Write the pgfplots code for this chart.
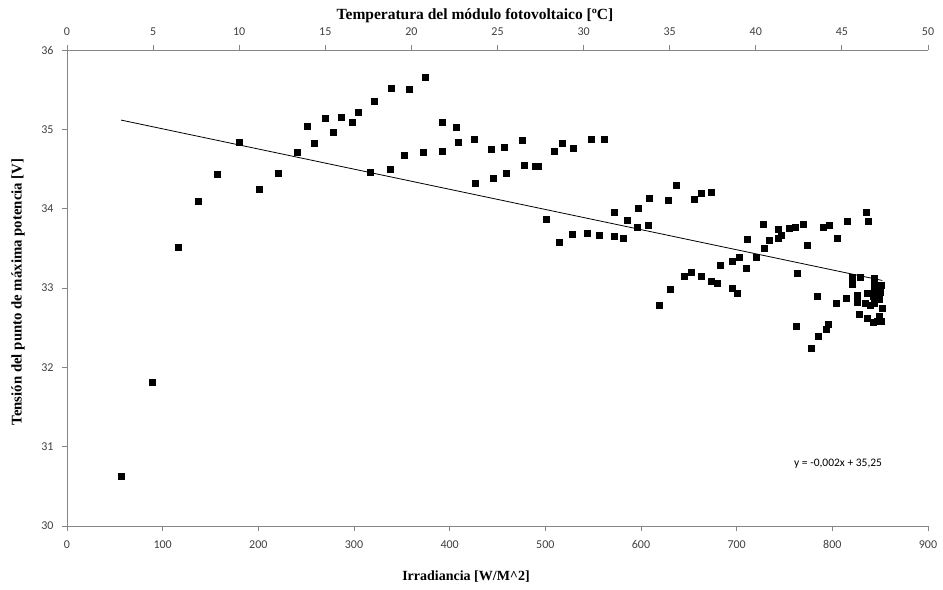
\documentclass[border=0pt]{standalone}
\usepackage{fontspec}
\setmainfont{Liberation Serif}
\newfontfamily\tickfont{Carlito}
\usepackage{pgfplots}
\pgfplotsset{compat=1.18}
\usepackage{pgfplotstable}

\definecolor{axgray}{RGB}{134,134,134}
\definecolor{tickgray}{RGB}{64,64,64}

% Irradiance [W/m^2] vs. MPP voltage [V]
\pgfplotstableread{
x y
56.4 30.63
89.1 31.81
115.8 33.52
137.4 34.10
157.1 34.44
179.7 34.84
200.9 34.24
221.2 34.45
241.1 34.71
251.1 35.04
258.3 34.82
269.6 35.14
278.3 34.96
286.3 35.15
297.6 35.09
304.8 35.21
321.6 35.36
317.1 34.46
339.3 35.52
338.2 34.50
357.7 35.51
352.4 34.67
374.8 35.66
372.0 34.71
391.8 35.09
392.6 34.72
406.8 35.03
408.9 34.84
425.6 34.87
426.6 34.32
443.0 34.75
445.1 34.39
457.4 34.78
458.7 34.45
475.8 34.86
477.5 34.55
489.0 34.54
492.8 34.53
500.8 33.87
509.1 34.72
514.8 33.58
517.9 34.83
528.0 33.68
529.4 34.76
543.4 33.69
547.8 34.87
556.3 33.67
561.1 34.88
571.6 33.65
571.6 33.95
581.7 33.63
585.4 33.85
596.5 33.77
597.2 34.01
607.4 33.79
608.4 34.13
619.4 32.78
628.2 34.11
630.3 32.98
636.6 34.30
645.2 33.15
652.2 33.20
655.7 34.12
663.3 34.19
663.3 33.15
673.1 34.21
673.7 33.08
679.7 33.06
682.5 33.29
695.0 33.34
695.7 33.00
700.9 32.94
702.6 33.39
710.3 33.25
711.1 33.62
720.9 33.39
727.4 33.81
729.2 33.50
734.4 33.60
743.1 33.74
743.7 33.63
746.2 33.67
754.9 33.75
760.8 33.77
761.8 32.52
763.5 33.19
769.5 33.80
774.2 33.54
777.6 32.24
784.4 32.90
784.9 32.39
790.1 33.77
793.9 32.48
796.0 32.55
796.7 33.79
803.6 32.81
805.5 33.63
814.4 32.87
815.5 33.84
820.4 33.05
821.0 33.14
825.6 32.82
826.2 32.91
828.0 32.67
829.3 33.13
833.9 32.81
835.0 33.95
836.6 32.94
836.6 32.62
837.1 33.84
839.2 32.78
842.6 32.90
842.6 32.57
843.3 33.12
843.3 33.04
843.6 32.97
843.6 32.81
846.5 32.58
848.8 32.86
849.1 32.65
849.9 32.95
850.6 32.58
850.9 33.03
852.3 32.74
}\mppdata

\begin{document}
\begin{tikzpicture}
\path[use as bounding box] (-67bp,-64bp) rectangle (876bp,526bp);

\pgfplotsset{
  every axis/.append style={
    width=861bp, height=476bp, scale only axis,
    axis line style={draw=axgray, line width=0.9bp, -},
    tick style={draw=axgray, line width=0.9bp},
    major tick length=5bp,
    tick align=outside,
    /pgf/number format/assume math mode=true,
    ticklabel style={font=\tickfont\fontsize{12bp}{14bp}\selectfont, text=tickgray},
  }
}

% main axis: irradiance / voltage
\begin{axis}[
  at={(0,0)}, anchor=south west,
  axis x line*=bottom, axis y line*=left,
  xmin=0, xmax=900, ymin=30, ymax=36,
  xtick={0,100,...,900}, ytick={30,31,...,36},
  xticklabel style={yshift=-6bp},
  yticklabel style={xshift=-5bp},
  minor tick num=0,
  clip=false,
]
\addplot[only marks, mark=square*, mark size=3bp, black] table[x=x, y=y] {\mppdata};
% linear trend line
\addplot[black, line width=0.8bp, no marks] coordinates {(56.4,35.117) (852.3,33.095)};
\node[font=\tickfont\fontsize{11.5bp}{13bp}\selectfont, text=black] at (axis cs:806,30.78) {y = -0,002x + 35,25};
\end{axis}

% secondary axis: module temperature
\begin{axis}[
  at={(0,0)}, anchor=south west,
  axis x line*=top, hide y axis,
  xmin=0, xmax=50, ymin=30, ymax=36,
  xtick={0,5,...,50},
  xticklabel style={yshift=6bp},
]
\end{axis}

\node[font=\bfseries\fontsize{15.5bp}{17bp}\selectfont] at (408bp,510bp) {Temperatura del módulo fotovoltaico [ºC]};
\node[font=\bfseries\fontsize{14bp}{16bp}\selectfont] at (399bp,-51bp) {Irradiancia [W/M\^{}2]};
\node[font=\bfseries\fontsize{14.8bp}{16bp}\selectfont, rotate=90] at (-49bp,234bp) {Tensión del punto de máxima potencia [V]};
\end{tikzpicture}
\end{document}
